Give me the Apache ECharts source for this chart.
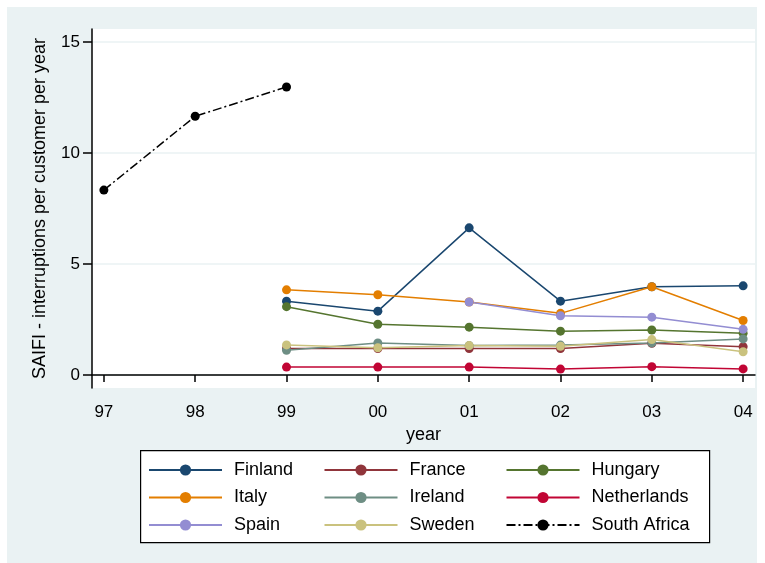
<!DOCTYPE html>
<html>
<head>
<meta charset="utf-8">
<script src="https://cdn.jsdelivr.net/npm/echarts@6/dist/echarts.min.js"></script>
<style>
  html, body { margin: 0; padding: 0; background: #fff; }
  #wrap { position: relative; width: 765px; height: 563px; background: #fff; }
  #chart { position: absolute; left: 7px; top: 7px; width: 750px; height: 556px; }
</style>
</head>
<body>
<div id="wrap"><div id="chart"></div></div>
<script>
// years on the x axis and their labels
var years = [1997, 1998, 1999, 2000, 2001, 2002, 2003, 2004];
var tickLabels = ['97', '98', '99', '00', '01', '02', '03', '04'];
var yTicks = [0, 5, 10, 15];

// SAIFI per country (null = no data)
var finland     = [null, null, 3.33, 2.88, 6.63, 3.33, 3.98, 4.02];
var france      = [null, null, 1.20, 1.20, 1.20, 1.20, 1.43, 1.28];
var hungary     = [null, null, 3.08, 2.29, 2.16, 1.98, 2.03, 1.89];
var italy       = [null, null, 3.84, 3.62, 3.29, 2.78, 3.98, 2.46];
var ireland     = [null, null, 1.12, 1.45, 1.33, 1.35, 1.45, 1.63];
var netherlands = [null, null, 0.36, 0.36, 0.36, 0.27, 0.38, 0.28];
var spain       = [null, null, null, null, 3.29, 2.67, 2.61, 2.06];
var sweden      = [null, null, 1.36, 1.23, 1.33, 1.30, 1.60, 1.05];
var southAfrica = [8.33, 11.65, 12.97, null, null, null, null, null];

var font = '"Liberation Sans", Arial, sans-serif';

function pairs(vals) {
    return years.map(function(y, i) { return [y, vals[i]]; });
}

function line(name, vals, color, dash) {
    return {
        name: name,
        type: 'line',
        data: pairs(vals),
        symbol: 'circle',
        symbolSize: 9,
        connectNulls: false,
        itemStyle: { color: color },
        lineStyle: { color: color, width: 1.5, type: dash || 'solid' },
        emphasis: { disabled: true }
    };
}

function legendCol(left, names) {
    return {
        orient: 'vertical',
        left: left,
        top: 453,
        padding: 0,
        itemWidth: 73,
        itemHeight: 14,
        itemGap: 7.5,
        data: names,
        textStyle: { fontFamily: font, fontSize: 18, color: '#000', lineHeight: 20, padding: [0, 0, 0, 7] }
    };
}

var myChart = echarts.init(document.getElementById('chart'));

var option = {
    backgroundColor: '#eaf2f3',
    animation: false,
    grid: {
        left: 85, top: 22, right: 2, bottom: 175,
        show: true, backgroundColor: '#fff', borderWidth: 0
    },
    xAxis: {
        type: 'value',
        min: 1996.87,
        max: 2004.13,
        name: 'year',
        nameLocation: 'middle',
        nameGap: 34,
        nameTextStyle: { fontFamily: font, fontSize: 18, color: '#000' },
        axisLine: { lineStyle: { color: '#000', width: 1.5 } },
        axisTick: { customValues: years, length: 7, lineStyle: { color: '#000', width: 1.5 } },
        axisLabel: {
            customValues: years,
            margin: 16,
            fontFamily: font, fontSize: 17, color: '#000',
            formatter: function(v) { return tickLabels[years.indexOf(v)]; }
        },
        splitLine: { show: false }
    },
    yAxis: {
        type: 'value',
        min: -0.58,
        max: 15.58,
        splitNumber: 3,
        name: 'SAIFI - interruptions per customer per year',
        nameLocation: 'middle',
        nameGap: 43,
        nameTextStyle: { fontFamily: font, fontSize: 18, color: '#000' },
        axisLine: { show: true, lineStyle: { color: '#000', width: 1.5 } },
        axisTick: { show: true, customValues: yTicks, length: 9, lineStyle: { color: '#000', width: 1.5 } },
        axisLabel: { customValues: yTicks, margin: 12, fontFamily: font, fontSize: 17, color: '#000' },
        splitLine: { show: true, lineStyle: { color: '#eaf2f3', width: 1.5 } }
    },
    legend: [
        legendCol(141, ['Finland', 'Italy', 'Spain']),
        legendCol(316.5, ['France', 'Ireland', 'Sweden']),
        legendCol(498.5, ['Hungary', 'Netherlands', 'South Africa'])
    ],
    graphic: [{
        type: 'rect',
        left: 133, top: 443,
        shape: { width: 569, height: 92 },
        style: { fill: '#fff', stroke: '#000', lineWidth: 1.2 },
        z: -1,
        silent: true
    }],
    series: [
        line('Finland', finland, '#1a476f'),
        line('France', france, '#90353b'),
        line('Hungary', hungary, '#55752f'),
        line('Italy', italy, '#e37e00'),
        line('Ireland', ireland, '#6e8e84'),
        line('Netherlands', netherlands, '#c10534'),
        line('Spain', spain, '#938dd2'),
        line('Sweden', sweden, '#cac27e'),
        line('South Africa', southAfrica, '#000', [9, 3, 2, 3])
    ]
};

myChart.setOption(option);
</script>
</body>
</html>
